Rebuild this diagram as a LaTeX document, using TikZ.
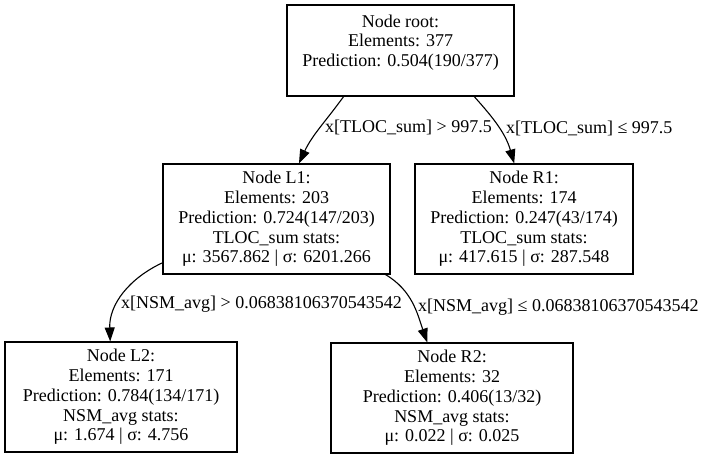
\documentclass[tikz,border=0pt]{standalone}
\usepackage{fontspec}
\setmainfont{Liberation Serif}
\usetikzlibrary{arrows.meta}

\begin{document}
\begin{tikzpicture}
[x=1pt, y=1pt,
 box/.style={draw, line width=1.1pt, align=center, inner sep=0pt,
   minimum height=110pt, font=\fontsize{18}{19.75}\selectfont},
 cond/.style={font=\fontsize{18}{19.75}\selectfont, inner sep=0pt, anchor=west},
 branch/.style={line width=1.1pt, -{Triangle[length=14pt,width=10pt]}}]
\useasboundingbox (0,0) rectangle (707,-459);

\node [box, minimum width=227pt, minimum height=91pt] (root) at (400.5,-50.5)
	{Node root:\\Elements: 377\\Prediction: 0.504(190/377)\\~};
\node [box, minimum width=227pt] (L1) at (276.5,-219)
	{Node L1:\\Elements: 203\\Prediction: 0.724(147/203)\\TLOC\_sum stats:\\μ: 3567.862 | σ: 6201.266};
\node [box, minimum width=218pt] (R1) at (524,-219)
	{Node R1:\\Elements: 174\\Prediction: 0.247(43/174)\\TLOC\_sum stats:\\μ: 417.615 | σ: 287.548};
\node [box, minimum width=232pt] (L2) at (121,-397)
	{Node L2:\\Elements: 171\\Prediction: 0.784(134/171)\\NSM\_avg stats:\\μ: 1.674 | σ: 4.756};
\node [box, minimum width=242pt] (R2) at (452,-398)
	{Node R2:\\Elements: 32\\Prediction: 0.406(13/32)\\NSM\_avg stats:\\μ: 0.022 | σ: 0.025};

\draw [branch] (root.219) to [out=234, in=65]
	node [cond, pos=0.47, xshift=4pt] (c1) {x[TLOC\_sum] > 997.5} (L1.68);
\draw [branch] (root.-32) to [out=-48, in=106]
	node [cond, pos=0.52, xshift=6pt] (c2) {x[TLOC\_sum] ≤ 997.5} (R1.100);
\draw [branch] (L1.201) to [out=205, in=92]
	node [cond, pos=0.62, xshift=3pt] (c3) {x[NSM\_avg] > 0.06838106370543542} (L2.101);
\draw [branch] (L1.-27) to [out=-31, in=109]
	node [cond, pos=0.56, xshift=3pt] (c4) {x[NSM\_avg] ≤ 0.06838106370543542} (R2.114);
\end{tikzpicture}
\end{document}
